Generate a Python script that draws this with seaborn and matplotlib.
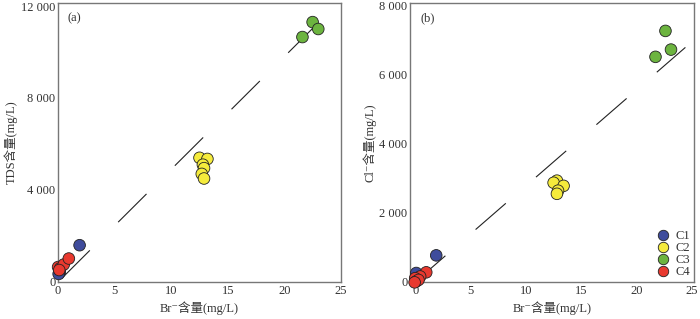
import matplotlib
matplotlib.use('Agg')
import matplotlib.pyplot as plt
import pandas as pd
import seaborn as sns

# data
groups = ['C1', 'C2', 'C3', 'C4']
colors = ['#3f4c9c', '#f5eb3c', '#6cb43f', '#e8392f']

# (a) TDS vs Br
a_br = {'C1': [1.9, 0.15, 0.05],
        'C2': [12.5, 13.2, 12.8, 12.9, 12.7, 12.9],
        'C3': [22.5, 23.0, 21.6],
        'C4': [0.0, 0.2, 0.5, 0.95, 0.1]}
a_tds = {'C1': [1600, 420, 350],
         'C2': [5400, 5350, 5100, 4950, 4700, 4500],
         'C3': [11300, 11000, 10650],
         'C4': [650, 600, 760, 1020, 520]}

# (b) Cl vs Br
b_br = {'C1': [1.9, 0.1],
        'C2': [12.8, 12.5, 13.4, 12.9, 12.8],
        'C3': [22.6, 23.1, 21.7],
        'C4': [1.0, 0.45, 0.0, 0.1, 0.3, -0.05]}
b_cl = {'C1': [770, 260],
        'C2': [2930, 2870, 2780, 2640, 2550],
        'C3': [7260, 6720, 6510],
        'C4': [280, 160, 110, 20, 60, -10]}

# reference (seawater evaporation) lines: slope and x-extent
a_slope, a_line_x = 490, [0.3, 23.0]
b_slope, b_line_x = 278, [0.0, 24.4]

a_ticks = [0, 4000, 8000, 12000]
b_ticks = [0, 2000, 4000, 6000, 8000]
x_ticks = [0, 5, 10, 15, 20, 25]


def to_df(xd, yd):
    rows = []
    for g in groups:
        for x, y in zip(xd[g], yd[g]):
            rows.append({'Br': x, 'val': y, 'group': g})
    return pd.DataFrame(rows)


sns.set_style('white')
plt.rcParams['font.family'] = ['Liberation Serif', 'DejaVu Serif', 'Noto Sans CJK SC']
plt.rcParams['font.size'] = 9
plt.rcParams['text.color'] = '#333333'
plt.rcParams['axes.labelcolor'] = '#333333'
plt.rcParams['xtick.color'] = '#333333'
plt.rcParams['ytick.color'] = '#333333'

fig = plt.figure(figsize=(7, 3.19), dpi=100)
ax1 = fig.add_axes([0.083, 0.116, 0.404, 0.876])
ax2 = fig.add_axes([0.586, 0.116, 0.405, 0.876])

fmt = lambda v: f'{v:,}'.replace(',', ' ')

for ax, xd, yd, slope, lx, ticks, ylab, tag, xlim, ylim in [
        (ax1, a_br, a_tds, a_slope, a_line_x, a_ticks, 'TDS含量(mg/L)', '(a)', (0, 25), (0, 12150)),
        (ax2, b_br, b_cl, b_slope, b_line_x, b_ticks, 'Cl\u207b含量(mg/L)', '(b)', (-0.45, 25.15), (0, 8080))]:
    ax.plot(lx, [slope * v for v in lx], color='#222222', lw=0.8, dashes=(36, 36), zorder=1)
    df = to_df(xd, yd)
    sns.scatterplot(data=df, x='Br', y='val', hue='group', hue_order=groups,
                    palette=colors, s=70, edgecolor='#222222', linewidth=0.6,
                    clip_on=False, zorder=3, ax=ax, legend=(ax is ax2))
    ax.set_xlim(*xlim)
    ax.set_ylim(*ylim)
    ax.set_xticks(x_ticks)
    ax.set_yticks(ticks)
    ax.set_yticklabels([fmt(t) for t in ticks])
    ax.tick_params(direction='in', length=3, width=0.8, color='#666666', labelsize=9, pad=2)
    for sp in ax.spines.values():
        sp.set_color('#777777')
        sp.set_linewidth(1.0)
    ax.set_xlabel('Br\u207b含量(mg/L)', fontsize=9, labelpad=3)
    ax.set_ylabel(ylab, fontsize=9, labelpad=2)
    ax.text(0.035, 0.965, tag, transform=ax.transAxes, ha='left', va='top', fontsize=9)

leg = ax2.legend(loc='lower right', frameon=False, fontsize=9, handletextpad=0.0,
                 labelspacing=0.0, borderaxespad=0.1, markerscale=0.9,
                 borderpad=0.2)
for h in leg.legend_handles:
    h.set_markeredgecolor('#222222')

fig.savefig('out.png', dpi=100)
